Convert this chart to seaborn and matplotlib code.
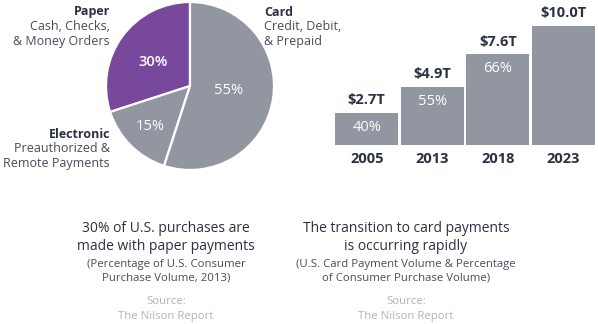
import matplotlib
matplotlib.use("Agg")
import matplotlib.pyplot as plt
import seaborn as sns
import pandas as pd

# Payment mix, 2013 (share of consumer purchase volume)
mix_labels = ["Paper", "Electronic", "Card"]
mix_shares = [30, 15, 55]

# Card payment volume (trillions USD) and share of purchase volume
years = ["2005", "2013", "2018", "2023"]
card_volume = [2.7, 4.9, 7.6, 10.0]
card_share = ["40%", "55%", "66%", ""]

sns.set_theme(style="white")
FONT = ["Open Sans", "DejaVu Sans"]
plt.rcParams["font.family"] = FONT

PURPLE = "#78489C"
GRAY = "#9196A1"
DARK = "#2B3143"
MID = "#474C5A"
LIGHT = "#B4B4B4"

W, H = 598, 324
fig = plt.figure(figsize=(W / 100, H / 100), dpi=100)
fig.patch.set_facecolor("white")


def box(x, y, w, h):
    """Pixel box (top-left origin) -> figure fraction rect."""
    return [x / W, 1 - (y + h) / H, w / W, h / H]


def ftext(x, y, s, **kw):
    fig.text(x / W, 1 - y / H, s, **kw)


# ---- pie ----
ax_pie = fig.add_axes(box(106, 2, 168, 168))
ax_pie.pie(mix_shares, colors=[PURPLE, GRAY, GRAY], startangle=90,
           counterclock=True,
           wedgeprops=dict(edgecolor="white", linewidth=1.6))
ax_pie.set_xlim(-1, 1)
ax_pie.set_ylim(-1, 1)
ax_pie.set_aspect("equal")
ax_pie.axis("off")

ftext(153, 62, f"{mix_shares[0]}%", color="white", fontsize=10.5,
      fontweight="semibold", ha="center", va="center")
ftext(150, 127, f"{mix_shares[1]}%", color="white", fontsize=10.5,
      ha="center", va="center")
ftext(229, 90, f"{mix_shares[2]}%", color="white", fontsize=10.5,
      ha="center", va="center")

ftext(110, 12, mix_labels[0], color=DARK, fontsize=9, fontweight="bold",
      ha="right", va="center")
ftext(110, 26, "Cash, Checks,", color=MID, fontsize=9, ha="right", va="center")
ftext(110, 41, "& Money Orders", color=MID, fontsize=9, ha="right", va="center")

ftext(264, 12, mix_labels[2], color=DARK, fontsize=9, fontweight="bold",
      ha="left", va="center")
ftext(264, 26, "Credit, Debit,", color=MID, fontsize=9, ha="left", va="center")
ftext(264, 41, "& Prepaid", color=MID, fontsize=9, ha="left", va="center")

ftext(110, 134, mix_labels[1], color=DARK, fontsize=9, fontweight="bold",
      ha="right", va="center")
ftext(110, 148, "Preauthorized &", color=MID, fontsize=9, ha="right", va="center")
ftext(110, 163, "Remote Payments", color=MID, fontsize=9, ha="right", va="center")

# ---- bars ----
ax_bar = fig.add_axes(box(334, 0, 262, 145))
df = pd.DataFrame({"year": years, "volume": card_volume})
sns.barplot(data=df, x="year", y="volume", color=GRAY, saturation=1,
            width=0.955, ax=ax_bar, edgecolor="none")
ax_bar.set_xlim(-0.5, 3.5)
ax_bar.set_ylim(0, 12.17)
ax_bar.axis("off")

for i, (v, s) in enumerate(zip(card_volume, card_share)):
    ax_bar.annotate(f"${v:.1f}T", (i, v), xytext=(0, 4),
                    textcoords="offset points", ha="center", va="bottom",
                    fontsize=10.5, fontweight="bold", color=DARK,
                    annotation_clip=False)
    if s:
        ax_bar.annotate(s, (i, v), xytext=(0, -5), textcoords="offset points",
                        ha="center", va="top", fontsize=10.5, color="white")
    ax_bar.annotate(years[i], (i, 0), xytext=(0, -5),
                    textcoords="offset points", ha="center", va="top",
                    fontsize=10.5, fontweight="bold", color=DARK,
                    annotation_clip=False)

# ---- captions ----
for cx, lines in [
    (166, ["30% of U.S. purchases are", "made with paper payments",
           "(Percentage of U.S. Consumer", "Purchase Volume, 2013)"]),
    (406, ["The transition to card payments", "is occurring rapidly",
           "(U.S. Card Payment Volume & Percentage",
           "of Consumer Purchase Volume)"]),
]:
    ftext(cx, 229, lines[0], color=DARK, fontsize=10, ha="center", va="center")
    ftext(cx, 247, lines[1], color=DARK, fontsize=10, ha="center", va="center")
    ftext(cx, 264, lines[2], color=MID, fontsize=8.2, ha="center", va="center")
    ftext(cx, 278, lines[3], color=MID, fontsize=8.2, ha="center", va="center")
    ftext(cx, 302, "Source:", color=LIGHT, fontsize=8.2, ha="center", va="center")
    ftext(cx, 317, "The Nilson Report", color=LIGHT, fontsize=8.2,
          ha="center", va="center")

fig.savefig("out.png", dpi=100, facecolor="white")
